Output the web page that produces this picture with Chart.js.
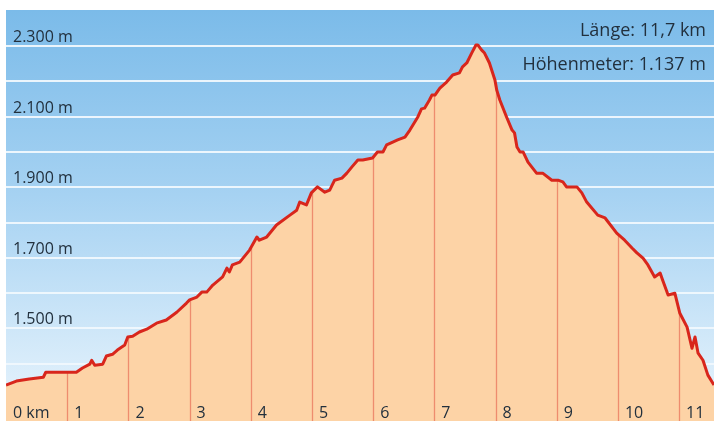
<!DOCTYPE html>
<html>
<head>
<meta charset="utf-8">
<title>Höhenprofil</title>
<script src="https://cdn.jsdelivr.net/npm/chart.js@4/dist/chart.umd.min.js"></script>
<style>
  html, body { margin: 0; padding: 0; background: #fff; }
  #wrap { width: 714px; height: 421px; }
</style>
</head>
<body>
<div id="wrap"><canvas id="profile" width="714" height="421"></canvas></div>
<script>
// distance along the route (km) and elevation (m)
var distKm = [0, 0.17, 0.38, 0.61, 0.65, 0.99, 1.15, 1.25, 1.37, 1.40, 1.45, 1.58, 1.64, 1.74, 1.82, 1.94, 1.99,
  2.07, 2.18, 2.30, 2.46, 2.62, 2.79, 2.95, 3.00, 3.12, 3.20, 3.28, 3.38, 3.54, 3.61, 3.65, 3.70, 3.82, 3.98,
  4.10, 4.14, 4.26, 4.42, 4.64, 4.75, 4.80, 4.91, 4.99, 5.09, 5.21, 5.29, 5.37, 5.49, 5.57, 5.65, 5.75, 5.83, 5.99,
  6.07, 6.16, 6.22, 6.32, 6.40, 6.52, 6.60, 6.73, 6.79, 6.84, 6.92, 6.96, 7.01, 7.09, 7.20, 7.30, 7.41, 7.46, 7.53,
  7.61, 7.68, 7.71, 7.77, 7.82, 7.90, 7.99, 8.02, 8.07, 8.18, 8.27, 8.31, 8.35, 8.40, 8.45, 8.53, 8.67, 8.77, 8.92,
  9.02, 9.10, 9.16, 9.33, 9.41, 9.49, 9.67, 9.79, 9.98, 10.11, 10.23, 10.31, 10.41, 10.49, 10.60, 10.69, 10.73,
  10.82, 10.93, 11.01, 11.13, 11.21, 11.26, 11.31, 11.39, 11.47, 11.57];
var elevation = [1340, 1351, 1357, 1362, 1376, 1376, 1376, 1388, 1399, 1410, 1396, 1399, 1422, 1427, 1439, 1453, 1476,
  1478, 1490, 1498, 1515, 1524, 1546, 1572, 1581, 1589, 1603, 1603, 1623, 1646, 1671, 1660, 1680, 1688, 1722,
  1759, 1750, 1759, 1793, 1821, 1835, 1858, 1850, 1884, 1901, 1886, 1892, 1920, 1926, 1940, 1957, 1977, 1977, 1983,
  2000, 2000, 2020, 2028, 2034, 2042, 2062, 2099, 2122, 2124, 2147, 2161, 2161, 2181, 2198, 2218, 2224, 2241, 2252,
  2280, 2303, 2303, 2289, 2280, 2252, 2204, 2175, 2147, 2099, 2062, 2054, 2014, 2000, 2000, 1971, 1940, 1940, 1920,
  1920, 1915, 1901, 1901, 1884, 1858, 1821, 1813, 1770, 1750, 1728, 1714, 1699, 1680, 1646, 1657, 1637,
  1595, 1600, 1544, 1504, 1444, 1476, 1430, 1410, 1368, 1340];

var gridValues = [1400, 1500, 1600, 1700, 1800, 1900, 2000, 2100, 2200, 2300];
var yLabelValues = [1500, 1700, 1900, 2100, 2300];
var yLabels = ['1.500 m', '1.700 m', '1.900 m', '2.100 m', '2.300 m'];
var kmMarks = [1, 2, 3, 4, 5, 6, 7, 8, 9, 10, 11];
var kmLabels = ['0 km', '1', '2', '3', '4', '5', '6', '7', '8', '9', '10', '11'];
var infoLines = ['Länge: 11,7 km', 'Höhenmeter: 1.137 m'];

var textColor = '#22303d';

function curveAt(km) {
  for (var i = 1; i < distKm.length; i++) {
    if (distKm[i] >= km) {
      var t = (km - distKm[i - 1]) / (distKm[i] - distKm[i - 1]);
      return elevation[i - 1] + t * (elevation[i] - elevation[i - 1]);
    }
  }
  return elevation[elevation.length - 1];
}

var profileDecor = {
  id: 'profileDecor',
  beforeDraw: function (chart) {
    var ctx = chart.ctx, a = chart.chartArea, y = chart.scales.y;
    ctx.save();
    var g = ctx.createLinearGradient(0, a.top, 0, a.bottom);
    g.addColorStop(0, '#7bbbe9');
    g.addColorStop(0.45, '#a6d2f2');
    g.addColorStop(1, '#eaf5fd');
    ctx.fillStyle = g;
    ctx.fillRect(a.left, a.top, a.right - a.left, a.bottom - a.top);
    ctx.strokeStyle = 'rgba(240,248,253,0.95)';
    ctx.lineWidth = 2;
    gridValues.forEach(function (v) {
      var py = Math.round(y.getPixelForValue(v));
      ctx.beginPath();
      ctx.moveTo(a.left, py);
      ctx.lineTo(a.right, py);
      ctx.stroke();
    });
    ctx.restore();
  },
  beforeDatasetDraw: function (chart) {
    // km markers sit on top of the fill, under the red line
    var ctx = chart.ctx, a = chart.chartArea, x = chart.scales.x, y = chart.scales.y;
    ctx.save();
    ctx.strokeStyle = '#ee8c6e';
    ctx.lineWidth = 1.3;
    kmMarks.forEach(function (k) {
      var px = Math.round(x.getPixelForValue(k)) + 0.5;
      ctx.beginPath();
      ctx.moveTo(px, y.getPixelForValue(curveAt(k)));
      ctx.lineTo(px, a.bottom);
      ctx.stroke();
    });
    ctx.restore();
  },
  afterDraw: function (chart) {
    var ctx = chart.ctx, x = chart.scales.x, y = chart.scales.y;
    ctx.save();
    ctx.fillStyle = textColor;
    ctx.font = '16px "Open Sans"';
    ctx.textBaseline = 'alphabetic';
    ctx.textAlign = 'left';
    yLabelValues.forEach(function (v, i) {
      ctx.fillText(yLabels[i], 13, y.getPixelForValue(v) - 4);
    });
    kmLabels.forEach(function (lab, k) {
      var px = k === 0 ? 13 : x.getPixelForValue(k) + 7;
      ctx.fillText(lab, px, 418);
    });
    ctx.font = '18px "Open Sans"';
    ctx.textAlign = 'right';
    ctx.fillText(infoLines[0], 706, 36);
    ctx.fillText(infoLines[1], 706, 70);
    ctx.restore();
  }
};

var points = distKm.map(function (d, i) { return { x: d, y: elevation[i] }; });

new Chart(document.getElementById('profile'), {
  type: 'line',
  data: {
    datasets: [{
      data: points,
      borderColor: '#d8261c',
      borderWidth: 3,
      borderJoinStyle: 'round',
      backgroundColor: '#fdd3a6',
      fill: 'start',
      pointRadius: 0,
      tension: 0
    }]
  },
  options: {
    responsive: false,
    animation: false,
    devicePixelRatio: 1,
    layout: { padding: { left: 6, right: 0, top: 10, bottom: 0 } },
    plugins: { legend: { display: false }, tooltip: { enabled: false } },
    scales: {
      x: { type: 'linear', min: 0, max: 11.57, display: false },
      y: { min: 1238, max: 2402, display: false }
    }
  },
  plugins: [profileDecor]
});
</script>
</body>
</html>
